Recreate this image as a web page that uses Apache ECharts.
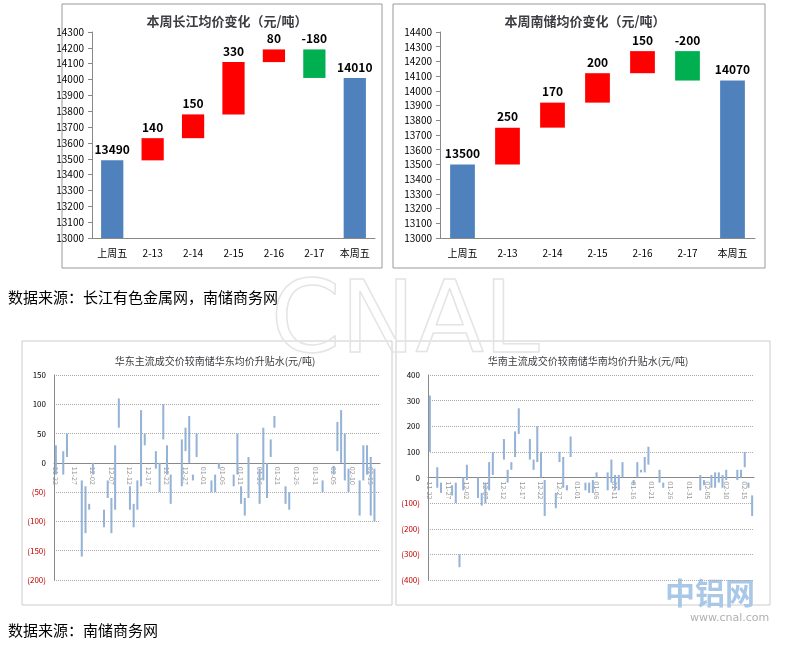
<!DOCTYPE html>
<html>
<head>
<meta charset="utf-8">
<script src="https://cdn.jsdelivr.net/npm/echarts@6/dist/echarts.min.js"></script>
<style>html,body{margin:0;padding:0;background:#fff}#main{width:799px;height:651px}</style>
</head>
<body>
<div id="main"></div>
<script>
// weekly waterfall data
var wfCats = ['上周五', '2-13', '2-14', '2-15', '2-16', '2-17', '本周五'];
var cjStart = 13490, cjChanges = [140, 150, 330, 80, -180], cjEnd = 14010;
var nsStart = 13500, nsChanges = [250, 170, 200, 150, -200], nsEnd = 14070;

// daily premium ranges [date, low, high]
var eastRanges = [
    ['11-22', -20, 30], ['11-24', -20, 20], ['11-25', 10, 50], ['11-29', -160, -30], ['11-30', -120, -40],
    ['12-01', -80, -70], ['12-02', -20, 0], ['12-05', -110, -80], ['12-06', -60, -30], ['12-07', -120, -60],
    ['12-08', -80, 30], ['12-09', 60, 110], ['12-12', -80, -40], ['12-13', -110, -70], ['12-14', -80, -30],
    ['12-15', -40, 90], ['12-16', 30, 50], ['12-19', -10, 20], ['12-20', -50, 0], ['12-21', 40, 100],
    ['12-22', -20, 30], ['12-23', -70, -20], ['12-26', -40, 40], ['12-27', 20, 60], ['12-28', 0, 80],
    ['12-29', -30, -20], ['12-30', 10, 50], ['01-03', -50, -30], ['01-04', -50, -20], ['01-05', -10, 0],
    ['01-09', -40, -20], ['01-10', -20, 50], ['01-11', -70, -40], ['01-12', -90, -60], ['01-13', -60, 10],
    ['01-16', -70, -10], ['01-17', -30, 60], ['01-18', -60, 0], ['01-19', 10, 40], ['01-20', 60, 80],
    ['01-23', -70, -40], ['01-24', -80, -50], ['02-02', -50, -30], ['02-05', -20, -5], ['02-06', 20, 70],
    ['02-07', 0, 90], ['02-08', -30, 50], ['02-09', -50, -10], ['02-12', -90, -30], ['02-13', -30, 30],
    ['02-14', -20, 30], ['02-15', -90, 10], ['02-16', -100, -10]
];
var southRanges = [
    ['11-22', 100, 320], ['11-24', -40, 40], ['11-25', -60, -20], ['11-28', -70, -30], ['11-29', -100, -20],
    ['11-30', -350, -300], ['12-01', -50, 0], ['12-02', -10, 50], ['12-05', -80, 0], ['12-06', -110, -60],
    ['12-07', -100, -20], ['12-08', -50, 60], ['12-09', 10, 100], ['12-12', 70, 150], ['12-13', -20, 30],
    ['12-14', 30, 60], ['12-15', 80, 180], ['12-16', 170, 270], ['12-19', 70, 150], ['12-20', 30, 70],
    ['12-21', 60, 200], ['12-22', 0, 100], ['12-23', -150, -10], ['12-26', -120, -60], ['12-27', 60, 100],
    ['12-28', -40, 80], ['12-29', -50, -30], ['12-30', 80, 160], ['01-03', -50, -20], ['01-04', -60, -20],
    ['01-05', -60, -10], ['01-06', 0, 20], ['01-09', -50, 20], ['01-10', -20, 70], ['01-11', -50, 10],
    ['01-12', -50, 10], ['01-13', 0, 60], ['01-16', -30, -10], ['01-17', 0, 60], ['01-18', 20, 30],
    ['01-19', 20, 80], ['01-20', 50, 120], ['01-23', -20, 30], ['01-24', -40, -20], ['02-03', -50, 10],
    ['02-04', -30, -10], ['02-06', -40, 10], ['02-07', -40, 20], ['02-08', -20, 20], ['02-09', -40, 10],
    ['02-10', -10, 30], ['02-13', -10, 30], ['02-14', 0, 30], ['02-15', 40, 100], ['02-16', -40, -20],
    ['02-17', -150, -70]
];

// daily categories 11-22 .. 02-17
var dayCats = [];
var d = new Date(2011, 10, 22);
while (dayCats.length < 88) {
    dayCats.push(('0' + (d.getMonth() + 1)).slice(-2) + '-' + ('0' + d.getDate()).slice(-2));
    d.setDate(d.getDate() + 1);
}

function waterfall(start, changes, end) {
    var base = [0], up = [start], down = ['-'], labels = [start];
    var level = start;
    changes.forEach(function (c) {
        var next = level + c;
        base.push(Math.min(level, next));
        up.push(c > 0 ? c : '-');
        down.push(c < 0 ? -c : '-');
        labels.push(c);
        level = next;
    });
    base.push(0); up.push(end); down.push('-'); labels.push(end);
    return {base: base, up: up, down: down, labels: labels};
}
var cj = waterfall(cjStart, cjChanges, cjEnd);
var ns = waterfall(nsStart, nsChanges, nsEnd);

function wfSeries(w, idx) {
    function colorOf(p) { return (p.dataIndex === 0 || p.dataIndex === 6) ? '#4f81bd' : '#ff0000'; }
    var lbl = {show: true, position: 'top', fontWeight: 'bold', fontSize: 12, color: '#000',
        formatter: function (p) { return w.labels[p.dataIndex]; }};
    return [
        {type: 'bar', xAxisIndex: idx, yAxisIndex: idx, stack: 's' + idx, data: w.base, barWidth: '55%',
            itemStyle: {color: 'transparent'}, silent: true},
        {type: 'bar', xAxisIndex: idx, yAxisIndex: idx, stack: 's' + idx, data: w.up,
            itemStyle: {color: colorOf}, label: lbl},
        {type: 'bar', xAxisIndex: idx, yAxisIndex: idx, stack: 's' + idx, data: w.down,
            itemStyle: {color: '#00b050'}, label: lbl}
    ];
}

function rangeSeries(list, idx) {
    return {
        type: 'custom', xAxisIndex: idx, yAxisIndex: idx,
        data: list.map(function (r) { return [dayCats.indexOf(r[0]), r[1], r[2]]; }),
        renderItem: function (params, api) {
            var top = api.coord([api.value(0), api.value(2)]);
            var bot = api.coord([api.value(0), api.value(1)]);
            var w = api.size([1, 0])[0] * 0.55;
            return {type: 'rect', shape: {x: top[0] - w / 2, y: top[1], width: w, height: bot[1] - top[1]},
                style: {fill: '#95b3d7'}};
        }
    };
}

function negFmt(v) { return v < 0 ? '(' + (-v) + ')' : String(v); }

var wfX = function (g) {
    return {type: 'category', gridIndex: g, data: wfCats, axisTick: {show: false},
        axisLine: {lineStyle: {color: '#888'}}, axisLabel: {interval: 0, fontSize: 10, color: '#000', margin: 10}};
};
var wfY = function (g, max) {
    return {type: 'value', gridIndex: g, min: 13000, max: max, interval: 100,
        axisLine: {show: true, lineStyle: {color: '#888'}}, axisTick: {show: true, length: 4},
        splitLine: {show: false}, axisLabel: {fontSize: 10, color: '#000', formatter: function (v) { return String(v); }}};
};
// x axis sits on the zero line: shift it up from the grid bottom
var dayX = function (g, zeroOffset) {
    return {type: 'category', gridIndex: g, data: dayCats, axisTick: {show: false},
        position: 'bottom', offset: -zeroOffset,
        axisLine: {onZero: false, lineStyle: {color: '#888'}},
        axisLabel: {interval: 4, rotate: -90, fontSize: 7, color: '#999', margin: 4}};
};
var dayY = function (g, min, max, interval) {
    return {type: 'value', gridIndex: g, min: min, max: max, interval: interval,
        axisLine: {show: true, lineStyle: {color: '#888'}}, axisTick: {show: false},
        splitLine: {lineStyle: {type: 'dotted', color: '#aaa'}},
        axisLabel: {fontSize: 8, formatter: negFmt,
            color: function (v) { return v < 0 ? '#c00000' : '#000'; }}};
};

var chart = echarts.init(document.getElementById('main'));
chart.setOption({
    animation: false,
    textStyle: {fontFamily: '"Noto Sans CJK SC", sans-serif'},
    title: [
        {text: '本周长江均价变化（元/吨）', left: 222, top: 10, textAlign: 'center', textStyle: {fontSize: 13, fontWeight: 'bold'}},
        {text: '本周南储均价变化（元/吨）', left: 580, top: 10, textAlign: 'center', textStyle: {fontSize: 13, fontWeight: 'bold'}},
        {text: '华东主流成交价较南储华东均价升贴水(元/吨)', left: 210, top: 351, textAlign: 'center', textStyle: {fontSize: 10, fontWeight: 'normal'}},
        {text: '华南主流成交价较南储华南均价升贴水(元/吨)', left: 583, top: 351, textAlign: 'center', textStyle: {fontSize: 10, fontWeight: 'normal'}}
    ],
    grid: [
        {left: 92, top: 32, width: 283, height: 206},
        {left: 440, top: 32, width: 315, height: 206},
        {left: 54, top: 375, width: 326, height: 205},
        {left: 428, top: 375, width: 326, height: 205}
    ],
    xAxis: [wfX(0), wfX(1), dayX(2, 205 * 200 / 350), dayX(3, 205 / 2)],
    yAxis: [wfY(0, 14300), wfY(1, 14400), dayY(2, -200, 150, 50), dayY(3, -400, 400, 100)],
    series: wfSeries(cj, 0).concat(wfSeries(ns, 1)).concat([rangeSeries(eastRanges, 2), rangeSeries(southRanges, 3)]),
    graphic: [
        {type: 'rect', shape: {x: 62, y: 4, width: 320, height: 264}, style: {fill: 'none', stroke: '#999', lineWidth: 1}},
        {type: 'rect', shape: {x: 393, y: 4, width: 372, height: 264}, style: {fill: 'none', stroke: '#999', lineWidth: 1}},
        {type: 'rect', shape: {x: 22, y: 341, width: 370, height: 264}, style: {fill: 'none', stroke: '#ccc', lineWidth: 1}},
        {type: 'rect', shape: {x: 396, y: 341, width: 374, height: 264}, style: {fill: 'none', stroke: '#ccc', lineWidth: 1}},
        {type: 'text', left: 8, top: 290, style: {text: '数据来源：长江有色金属网，南储商务网', fill: '#000', font: '15px "Noto Sans CJK SC"'}},
        {type: 'text', left: 8, top: 623, style: {text: '数据来源：南储商务网', fill: '#000', font: '15px "Noto Sans CJK SC"'}},
        {type: 'text', left: 270, top: 275, style: {text: 'CNAL', font: '100px "DejaVu Sans"', fill: 'none', stroke: '#e4e4e4', lineWidth: 1.5}},
        {type: 'text', left: 665, top: 578, style: {text: '中铝网', font: 'bold 30px "Noto Sans CJK SC"', fill: '#a9c8e8'}},
        {type: 'text', left: 690, top: 613, style: {text: 'www.cnal.com', font: '11px "DejaVu Sans"', fill: '#b0b0b0'}}
    ]
});
</script>
</body>
</html>
